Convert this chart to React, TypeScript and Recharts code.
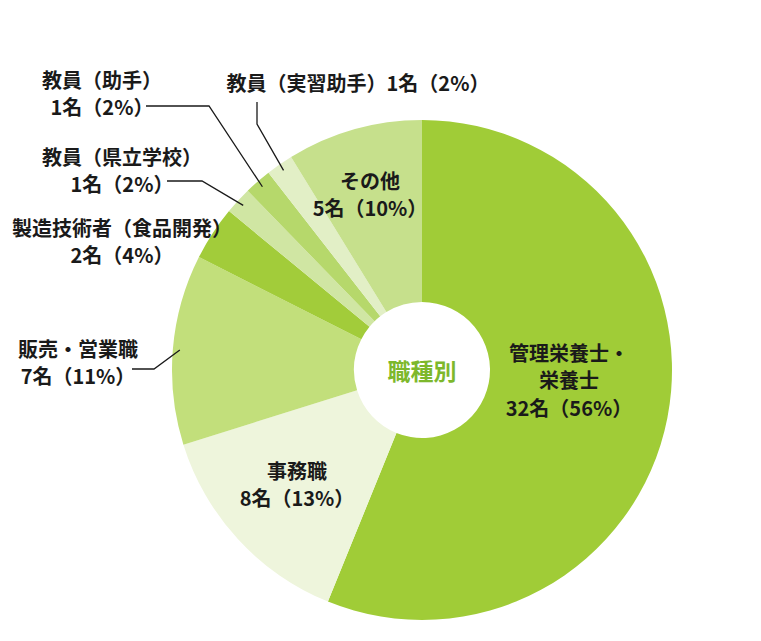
import React from "react";
import { PieChart, Pie, Cell } from "recharts";

// ---- data ----
const categories = [
  "管理栄養士・栄養士",
  "事務職",
  "販売・営業職",
  "製造技術者（食品開発）",
  "教員（県立学校）",
  "教員（助手）",
  "教員（実習助手）",
  "その他",
];
const counts = [32, 8, 7, 2, 1, 1, 1, 5];
const percents = [56, 13, 11, 4, 2, 2, 2, 10];
const labelLines: string[][] = [
  ["管理栄養士・", "栄養士", "32名（56%）"],
  ["事務職", "8名（13%）"],
  ["販売・営業職", "7名（11%）"],
  ["製造技術者（食品開発）", "2名（4%）"],
  ["教員（県立学校）", "1名（2%）"],
  ["教員（助手）", "1名（2%）"],
  ["教員（実習助手）1名（2%）"],
  ["その他", "5名（10%）"],
];
const centerTitle = "職種別";

// ---- styles / layout ----
const colors = ["#a0cc37", "#eef5dc", "#c2df7b", "#a2cc3a", "#d0e6a3", "#b6d86b", "#e2efc6", "#c6e08c"];
// label position relative to pie centre: [dx, dy of first line]
const labelPos: [number, number][] = [
  [147, -18],
  [-125, 100],
  [-344, -22],
  [-300, -143],
  [-300, -214],
  [-320, -291],
  [-64, -288],
  [-52, -190],
];
const lineGap = 27.5;
// leader polylines (relative to centre) ending at slice
const leaders: Record<number, [number, number][]> = {
  2: [[-290, -1], [-268, -1]],
  4: [[-255, -189], [-220, -189]],
  5: [[-276, -264], [-213, -264]],
  6: [[-165, -268], [-165, -246]],
};

const data = categories.map((name, i) => ({ name, value: counts[i], pct: percents[i] }));
const FONT = '"Noto Sans CJK JP", "Noto Sans", sans-serif';
const RAD = Math.PI / 180;

const renderLabel = (props: any) => {
  const { cx, cy, midAngle, outerRadius, index } = props;
  const [dx, dy] = labelPos[index];
  const lines = labelLines[index];
  const items: React.ReactNode[] = [];
  lines.forEach((t, k) => {
    items.push(
      <text
        key={"t" + k}
        x={cx + dx}
        y={cy + dy + k * lineGap}
        textAnchor="middle"
        dominantBaseline="central"
        fontFamily={FONT}
        fontWeight={700}
        fontSize={20}
        fill="#1a1a1a"
      >
        {t}
      </text>
    );
  });
  const ld = leaders[index];
  if (ld) {
    const r = outerRadius - 7;
    const ex = cx + r * Math.cos(-midAngle * RAD);
    const ey = cy + r * Math.sin(-midAngle * RAD);
    const pts = ld.map(([x, y]) => `${cx + x},${cy + y}`).join(" ") + ` ${ex},${ey}`;
    items.push(<polyline key="l" points={pts} fill="none" stroke="#1a1a1a" strokeWidth={1.3} />);
  }
  if (index === 0) {
    items.push(
      <text
        key="c"
        x={cx}
        y={cy}
        textAnchor="middle"
        dominantBaseline="central"
        fontFamily={FONT}
        fontWeight={700}
        fontSize={23}
        fill="#7db82c"
      >
        {centerTitle}
      </text>
    );
  }
  return <g>{items}</g>;
};

export default function App() {
  return (
    <div style={{ position: "absolute", left: 0, top: 0, width: 761, height: 641, background: "#fff" }}>
      <PieChart width={761} height={641} margin={{ top: 0, right: 0, bottom: 0, left: 0 }}>
        <Pie
          data={data}
          dataKey="value"
          nameKey="name"
          cx={422}
          cy={370}
          innerRadius={68}
          outerRadius={250}
          startAngle={90}
          endAngle={-270}
          stroke="none"
          label={renderLabel}
          labelLine={false}
          isAnimationActive={false}
        >
          {data.map((d, i) => (
            <Cell key={d.name} fill={colors[i]} stroke="none" />
          ))}
        </Pie>
      </PieChart>
    </div>
  );
}
